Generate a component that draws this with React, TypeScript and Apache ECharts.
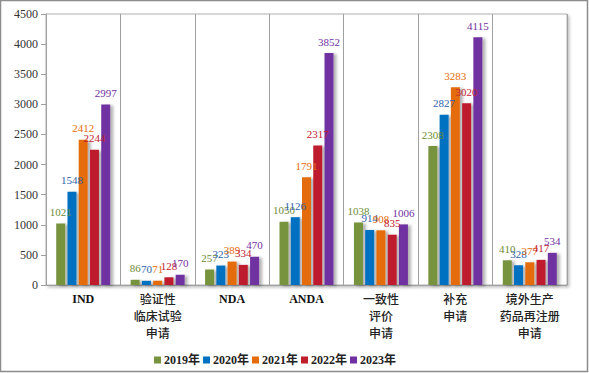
import React, { useEffect, useRef } from "react";
import * as echarts from "echarts";

const categories = [
  "IND",
  "验证性\n临床试验\n申请",
  "NDA",
  "ANDA",
  "一致性\n评价\n申请",
  "补充\n申请",
  "境外生产\n药品再注册\n申请",
];
const seriesNames = ["2019年", "2020年", "2021年", "2022年", "2023年"];
const v2019 = [1021, 86, 257, 1050, 1038, 2308, 410];
const v2020 = [1548, 70, 323, 1126, 914, 2827, 328];
const v2021 = [2412, 71, 389, 1791, 908, 3283, 377];
const v2022 = [2244, 128, 334, 2317, 835, 3020, 417];
const v2023 = [2997, 170, 470, 3852, 1006, 4115, 534];
const yMin = 0;
const yMax = 4500;
const yStep = 500;

const barColors = ["#77933C", "#0070C0", "#E46C0A", "#BE1E2D", "#7030A0"];
const labelColors = ["#6E8B35", "#2E62A8", "#E46C0A", "#C0202E", "#7030A0"];
const serif = "'Liberation Serif', 'Times New Roman', 'Noto Sans CJK SC', serif";
const cjk = "'Noto Sans CJK SC', 'Liberation Serif', serif";

export default function App() {
  const ref = useRef<HTMLDivElement>(null);
  useEffect(() => {
    if (!ref.current) return;
    const chart = echarts.init(ref.current, null, { renderer: "svg" });
    const values = [v2019, v2020, v2021, v2022, v2023];
    const barCommon = { barWidth: 9, barGap: "25%" };
    const mainSeries = seriesNames.map((name, i) => ({
      name,
      type: "bar",
      xAxisIndex: 0,
      data: values[i],
      ...barCommon,
      z: 2,
      itemStyle: {
        color: barColors[i],
        shadowColor: "rgba(0,0,0,0.3)",
        shadowBlur: 3,
        shadowOffsetX: 3,
        shadowOffsetY: 1,
      },
      label: { show: false },
    }));
    const labelSeries = seriesNames.map((name, i) => ({
      name,
      type: "bar",
      xAxisIndex: 1,
      data: values[i],
      ...barCommon,
      z: 10,
      silent: true,
      itemStyle: { color: "rgba(0,0,0,0)" },
      label: {
        show: true,
        position: "top",
        distance: 6,
        fontFamily: serif,
        fontSize: 11,
        color: labelColors[i],
      },
    }));
    chart.setOption({
      animation: false,
      backgroundColor: "#ffffff",
      color: barColors,
      graphic: [
        {
          type: "rect",
          shape: { x: 0.5, y: 0.5, width: 587, height: 371 },
          style: { fill: "none", stroke: "#8c8c8c", lineWidth: 1.5 },
          silent: true,
          z: 100,
        },
      ],
      grid: {
        left: 46,
        right: 22,
        top: 14,
        bottom: 88,
        show: true,
        borderColor: "#b0b0b0",
        borderWidth: 1,
        shadowColor: "rgba(0,0,0,0.25)",
        shadowBlur: 3,
        shadowOffsetX: 2,
        shadowOffsetY: 2,
        backgroundColor: "#ffffff",
      },
      legend: {
        data: seriesNames,
        left: 149,
        top: 349,
        itemWidth: 7,
        itemHeight: 7,
        itemGap: 3,
        icon: "rect",
        textStyle: {
          fontFamily: serif,
          fontWeight: "bold",
          fontSize: 12,
          color: "#222",
          padding: [0, 0, 0, -2],
        },
      },
      xAxis: [
        {
          type: "category",
          data: categories,
          axisTick: { show: false },
          axisLine: { lineStyle: { color: "#a0a0a0" } },
          splitLine: { show: true, lineStyle: { color: "#a0a0a0", width: 1 } },
          axisLabel: {
            interval: 0,
            margin: 5,
            formatter: (v: string) =>
              /^[A-Za-z]+$/.test(v)
                ? `{b|${v}}`
                : v
                    .split("\n")
                    .map((s) => `{c|${s}}`)
                    .join("\n"),
            rich: {
              b: {
                fontFamily: serif,
                fontWeight: "bold",
                fontSize: 12,
                color: "#111",
                lineHeight: 17,
              },
              c: {
                fontFamily: cjk,
                fontWeight: 500,
                fontSize: 12,
                color: "#222",
                lineHeight: 17,
              },
            },
          },
        },
        {
          type: "category",
          data: categories,
          show: false,
          gridIndex: 0,
        },
      ],
      yAxis: {
        type: "value",
        min: yMin,
        max: yMax,
        interval: yStep,
        splitLine: { show: false },
        axisLine: { show: true, lineStyle: { color: "#a0a0a0" } },
        axisTick: { show: true, length: 5, lineStyle: { color: "#a0a0a0" } },
        axisLabel: {
          fontFamily: serif,
          fontSize: 12,
          color: "#333",
          margin: 8,
          formatter: (v: number) => String(v),
        },
      },
      series: [...mainSeries, ...labelSeries],
    });
    return () => chart.dispose();
  }, []);
  return (
    <div
      ref={ref}
      style={{ position: "fixed", left: 0, top: 0, width: 589, height: 373 }}
    />
  );
}
